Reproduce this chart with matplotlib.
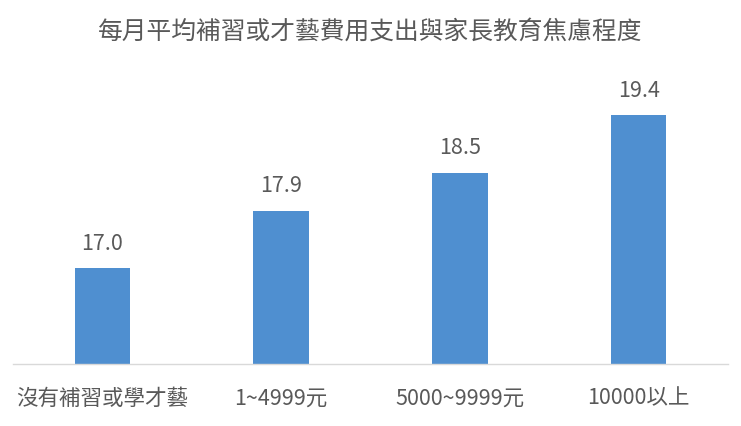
import matplotlib
matplotlib.use("Agg")
import matplotlib.pyplot as plt

plt.rcParams['font.family'] = ['Noto Sans CJK TC', 'DejaVu Sans']

categories = ["沒有補習或學才藝", "1~4999元", "5000~9999元", "10000以上"]
values = [17.0, 17.9, 18.5, 19.4]
title = "每月平均補習或才藝費用支出與家長教育焦慮程度"

W, H = 741, 426
fig = plt.figure(figsize=(W/100, H/100), dpi=100)
ax = fig.add_axes([13/W, 1 - 364/H, (728-13)/W, (364-60)/H])

x = list(range(len(categories)))
bars = ax.bar(x, values, width=0.31, color='#4F8FD0', zorder=2)
ax.set_xlim(-0.5, len(categories) - 0.5)
ax.set_ylim(15.5, 20.27)

for xi, v in zip(x, values):
    ax.annotate(f"{v:.1f}", (xi, v), xytext=(0, 10), textcoords='offset points',
                ha='center', va='bottom', fontsize=15.5, color='#595959', fontweight='light')

ax.set_xticks(x)
ax.set_xticklabels(categories, fontsize=15.5, color='#595959', fontweight='light')
ax.tick_params(axis='x', length=0, pad=17)
ax.set_yticks([])
for s in ['top', 'right', 'left']:
    ax.spines[s].set_visible(False)
ax.spines['bottom'].set_color('#D9D9D9')
ax.spines['bottom'].set_linewidth(1)

fig.text(0.5, 1 - 32/H, title, ha='center', va='center', fontsize=17.8,
         color='#595959', fontweight='light')

fig.savefig("out.png", dpi=100)
